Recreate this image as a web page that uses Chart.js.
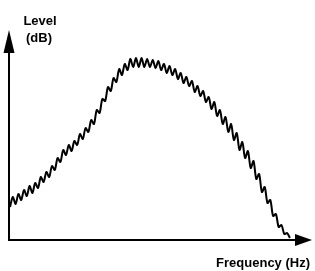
<!DOCTYPE html>
<html>
<head>
<meta charset="utf-8">
<script src="https://cdn.jsdelivr.net/npm/chart.js@4/dist/chart.umd.min.js"></script>
<style>
html,body{margin:0;padding:0;background:#fff;}
#wrap{width:315px;height:271px;}
</style>
</head>
<body>
<div id="wrap"><canvas id="c" width="315" height="271"></canvas></div>
<script>
// Axis titles
const yAxisTitle = ["Level", "(dB)"];
const xAxisTitle = "Frequency (Hz)";

// Frequency sample index (arbitrary linear frequency steps)
const freqStep = [
  0,1,2,3,4,5,6,7,8,9,10,11,12,13,14,15,16,17,18,19,
  20,21,22,23,24,25,26,27,28,29,30,31,32,33,34,35,36,37,38,39,
  40,41,42,43,44,45,46,47,48,49,50,51,52,53,54,55,56,57,58,59,
  60,61,62,63,64,65,66,67,68,69,70,71,72,73,74,75,76,77,78,79,
  80,81,82,83,84,85,86,87,88,89,90,91,92,93,94,95,96,97,98,99,100
];

// Level (relative dB units)
const level = [
  33,43,36,46,40,50,44,54,47,57,
  52,63,58,68,63,74,70,82,78,90,
  85,95,89,99,95,106,101,112,108,120,
  116,130,127,141,139,153,149,162,158,171,
  165,176,170,181,173,182,173,182,173,181,
  173,180,172,179,170,176,167,174,165,171,
  161,167,157,163,154,159,148,154,144,149,
  138,143,131,138,124,130,116,123,108,116,
  100,107,90,98,82,89,72,79,61,66,
  48,53,37,40,24,26,13,15,6,7,2
];

const points = freqStep.map((f, i) => ({x: f, y: level[i]}));

const axesPlugin = {
  id: 'arrowAxes',
  afterDraw(chart) {
    const ctx = chart.ctx;
    const a = chart.chartArea;
    const x0 = a.left, y0 = a.bottom;
    ctx.save();
    ctx.strokeStyle = '#000';
    ctx.fillStyle = '#000';
    ctx.lineWidth = 2;
    // vertical axis
    ctx.beginPath();
    ctx.moveTo(x0, y0 + 1);
    ctx.lineTo(x0, a.top + 20);
    ctx.stroke();
    ctx.beginPath();
    ctx.moveTo(x0, a.top);
    ctx.lineTo(x0 - 5.5, a.top + 23);
    ctx.lineTo(x0 + 5.5, a.top + 23);
    ctx.closePath();
    ctx.fill();
    // horizontal axis
    ctx.beginPath();
    ctx.moveTo(x0 - 1, y0);
    ctx.lineTo(a.right - 15, y0);
    ctx.stroke();
    ctx.beginPath();
    ctx.moveTo(a.right, y0);
    ctx.lineTo(a.right - 17, y0 - 6);
    ctx.lineTo(a.right - 17, y0 + 6);
    ctx.closePath();
    ctx.fill();
    // titles
    ctx.font = 'bold 13px "Liberation Sans", Arial, sans-serif';
    ctx.textAlign = 'center';
    ctx.textBaseline = 'alphabetic';
    ctx.fillText(yAxisTitle[0], 40, 25);
    ctx.fillText(yAxisTitle[1], 39, 42);
    ctx.textAlign = 'right';
    ctx.fillText(xAxisTitle, 310, 267);
    ctx.restore();
  }
};

new Chart(document.getElementById('c'), {
  type: 'line',
  data: {
    datasets: [{
      data: points,
      borderColor: '#000',
      borderWidth: 2,
      pointRadius: 0,
      tension: 0.3,
      fill: false
    }]
  },
  options: {
    responsive: false,
    animation: false,
    layout: { padding: { left: 9, right: 3, top: 30, bottom: 31 } },
    plugins: { legend: { display: false }, tooltip: { enabled: false } },
    scales: {
      x: { type: 'linear', min: -0.36, max: 107.9, display: false },
      y: { type: 'linear', min: 0, max: 210, display: false }
    }
  },
  plugins: [axesPlugin]
});
</script>
</body>
</html>
